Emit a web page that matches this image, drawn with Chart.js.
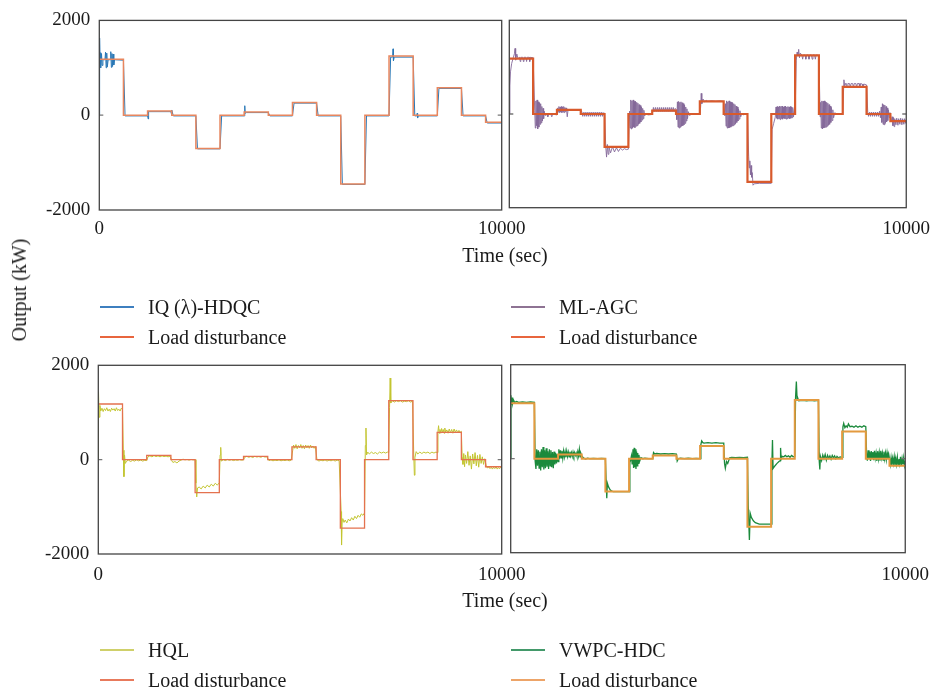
<!DOCTYPE html>
<html>
<head>
<meta charset="utf-8">
<script src="https://cdn.jsdelivr.net/npm/chart.js@4.4.1/dist/chart.umd.min.js"></script>
<style>
body { margin: 0; background: #fff; font-family: 'Liberation Serif', 'Times New Roman', serif; color: #1a1a1a; }
#wrap { position: relative; width: 940px; height: 691px; overflow: hidden; }
canvas { position: absolute; left: 0; top: 0; }
.lbl { position: absolute; font-size: 20px; white-space: nowrap; line-height: 1; }
.swatch { position: absolute; width: 34px; height: 0; border-top: 2px solid; }
</style>
</head>
<body>
<div id="wrap">
  <canvas id="c1" width="940" height="691"></canvas>
  <canvas id="c2" width="940" height="691"></canvas>
  <canvas id="c3" width="940" height="691"></canvas>
  <canvas id="c4" width="940" height="691"></canvas>
</div>
<script>
// load disturbance: level held from each time to the next (sec, kW)
const loadTimes = [0, 600, 1200, 1800, 2400, 3000, 3600, 4200, 4800, 5400, 6000, 6600, 7200, 7800, 8400, 9000, 9600, 10000];
const loadLevels = [1180, 0, 90, 0, -700, 0, 70, 0, 270, 0, -1450, 0, 1250, 0, 580, 0, -150, -150];

const yTickValues = [2000, 0, -2000];
const yTickLabels = ['2000', '0', '-2000'];
const xTickValues = [0, 10000];
const xTickLabels = ['0', '10000'];

// controller outputs [time, kW]
const iqOutput = [
  [0,0],[8,1630],[20,1100],[30,1320],[40,1000],[55,1300],[70,1050],[90,1170],[140,1170],[155,1330],[170,1000],[185,1310],[200,1020],[220,1170],
  [270,1170],[285,1340],[300,1010],[315,1300],[330,1030],[345,1290],[360,1060],[380,1170],[600,1160],
  [640,-15],[1200,-15],[1215,-80],[1225,90],[1240,75],[1780,75],[1790,30],[1800,110],[1840,-15],[2400,-15],[2440,-710],[3000,-710],[3040,-15],
  [3600,-15],[3615,200],[3625,40],[3650,55],[4200,55],[4240,-15],[4800,-15],[4840,255],[5400,255],[5440,-15],[6000,-15],[6040,-1460],[6600,-1460],
  [6640,-15],[7200,-15],[7240,1225],[7290,1225],[7300,1400],[7310,1150],[7330,1225],[7800,1225],[7840,-15],[7890,-15],[7900,40],[7910,-60],[7925,-15],
  [8400,-15],[8440,565],[9000,565],[9040,-15],[9600,-15],[9640,-165],[10000,-165]
];

const mlOutput = [
  [0,0],[15,600],[30,900],[60,1080],[100,1200],[130,1290],[145,1400],[160,1150],[190,1280],[220,1180],
  [260,1210],[275,1120],[290,1210],[340,1210],[355,1120],[370,1210],[420,1210],[435,1120],[450,1210],[500,1210],[515,1120],[530,1210],[600,1200],
  [640,80],[655,-300],[670,280],[685,-250],[700,300],[715,-320],[730,260],[745,-280],[760,240],[775,-220],[790,220],[805,-190],[820,160],[835,-150],[850,120],[865,-100],[880,60],[900,-30],
  [950,-10],[970,-60],[990,-10],[1050,-10],[1070,-60],[1090,-10],[1150,-10],[1200,-20],
  [1220,130],[1235,40],[1250,160],[1265,30],[1280,150],[1295,40],[1310,160],[1325,30],[1340,150],[1355,40],[1370,160],[1385,30],[1400,140],[1415,50],[1430,130],[1445,60],[1460,-60],[1480,90],[1800,90],
  [1830,40],[1850,-50],[1880,40],[1900,-50],[1930,40],[1950,-50],[1980,40],[2000,-50],[2030,40],[2050,-50],[2080,40],[2100,-50],[2130,40],[2150,-50],[2180,40],[2200,-50],[2230,40],[2250,-50],[2280,40],[2300,-50],[2330,40],[2350,-50],[2380,30],[2400,0],
  [2430,-700],[2450,-920],[2470,-650],[2490,-860],[2510,-700],[2550,-830],[2600,-700],[2650,-810],[2700,-720],[2750,-800],[2800,-730],[2850,-770],[2900,-740],[2950,-760],[3000,-750],
  [3030,60],[3045,-300],[3060,300],[3075,-320],[3090,280],[3105,-300],[3120,300],[3135,-280],[3150,270],[3165,-290],[3180,270],[3195,-260],[3210,250],[3225,-250],[3240,230],[3255,-220],[3270,200],[3285,-200],[3300,180],[3315,-170],[3330,150],[3345,-130],[3360,120],[3375,-100],[3390,80],[3410,-40],[3440,0],[3500,-20],[3600,-10],
  [3630,140],[3650,50],[3680,140],[3700,50],[3730,140],[3750,50],[3780,140],[3800,50],[3830,140],[3850,50],[3880,140],[3900,50],[3930,140],[3950,50],[3980,140],[4000,50],[4030,140],[4050,50],[4080,140],[4100,50],[4130,140],[4150,50],[4180,120],[4200,90],
  [4220,-120],[4235,260],[4250,-280],[4265,270],[4280,-300],[4295,250],[4310,-280],[4325,260],[4340,-260],[4355,240],[4370,-250],[4385,220],[4400,-230],[4415,190],[4430,-200],[4445,150],[4460,-150],[4475,110],[4490,-100],[4510,50],[4540,-30],[4600,0],[4700,-10],[4800,0],
  [4820,150],[4835,440],[4850,220],[4880,320],[4920,260],[4960,290],[5000,270],[5100,280],[5200,270],[5300,280],[5400,270],
  [5430,-40],[5445,220],[5460,-260],[5475,280],[5490,-300],[5505,260],[5520,-300],[5535,280],[5550,-290],[5565,260],[5580,-280],[5595,250],[5610,-260],[5625,240],[5640,-250],[5655,220],[5670,-230],[5685,200],[5700,-210],[5715,170],[5730,-180],[5745,150],[5760,-150],[5775,110],[5790,-110],[5810,70],[5830,-60],[5860,20],[5900,-20],[5950,0],[6000,-10],
  [6030,-900],[6045,-1150],[6060,-1000],[6075,-1300],[6090,-1100],[6105,-1350],[6120,-1250],[6140,-1520],[6170,-1490],[6300,-1480],[6600,-1480],
  [6620,-330],[6660,-200],[6700,-70],[6720,150],[6735,-90],[6750,160],[6765,-110],[6780,150],[6795,-100],[6810,170],[6825,-120],[6840,160],[6855,-100],[6870,170],[6885,-110],[6900,150],[6915,-90],[6930,160],[6945,-100],[6960,170],[6975,-110],[6990,150],[7005,-100],[7020,160],[7035,-90],[7050,150],[7065,-100],[7080,160],[7095,-90],[7110,150],[7125,-80],[7140,140],[7160,-60],[7180,100],[7200,0],
  [7230,1150],[7250,1320],[7270,1240],[7290,1380],[7310,1200],[7330,1300],[7370,1260],[7390,1170],[7410,1260],[7450,1260],[7470,1170],[7490,1260],[7530,1260],[7550,1170],[7570,1260],[7610,1260],[7630,1170],[7650,1260],[7690,1260],[7710,1170],[7730,1260],[7800,1250],
  [7830,-60],[7845,250],[7860,-300],[7875,280],[7890,-320],[7905,270],[7920,-300],[7935,280],[7950,-290],[7965,260],[7980,-280],[7995,250],[8010,-260],[8025,230],[8040,-240],[8055,200],[8070,-220],[8085,170],[8100,-180],[8115,140],[8130,-140],[8150,90],[8170,-80],[8200,30],[8250,-10],[8400,0],
  [8430,730],[8450,600],[8480,660],[8510,580],[8530,650],[8570,650],[8590,570],[8610,650],[8650,650],[8670,570],[8690,650],[8730,650],[8750,570],[8770,650],[8810,650],[8830,570],[8850,650],[8890,640],[8910,570],[8930,640],[9000,620],
  [9030,40],[9050,-50],[9080,40],[9100,-50],[9130,40],[9150,-50],[9180,40],[9200,-50],[9230,40],[9250,-50],[9280,40],[9300,-50],[9330,60],[9350,-80],[9370,150],[9385,-180],[9400,220],[9415,-220],[9430,200],[9445,-230],[9460,190],[9475,-200],[9490,160],[9505,-170],[9520,130],[9535,-140],[9550,90],[9570,-80],[9590,30],[9600,0],
  [9630,-150],[9650,-60],[9665,-250],[9680,-80],[9695,-270],[9710,-100],[9740,-230],[9760,-90],[9790,-240],[9810,-100],[9840,-220],[9860,-90],[9890,-230],[9910,-100],[9940,-220],[9960,-100],[9990,-200],[10000,-150]
];

const hqlOutput = [
  [0,0],[5,1440],[20,900],[40,1150],[60,1030],[90,1090],[120,1020],[150,1080],[180,1040],[210,1100],[240,1030],[270,1070],[300,1020],[330,1090],[360,1050],[390,1080],[420,1030],[450,1100],[480,1040],[510,1070],[540,1030],[570,1090],[600,1060],
  [620,200],[635,-360],[650,100],[670,-80],[700,-30],[750,-10],[800,-40],[850,-15],[900,-30],[950,-5],[1000,-25],[1050,-10],[1100,-30],[1150,-15],[1200,-20],
  [1230,60],[1280,80],[1330,60],[1380,85],[1430,65],[1480,80],[1530,60],[1580,80],[1630,65],[1680,75],[1730,60],[1780,75],
  [1820,-20],[1850,-60],[1900,-40],[1950,-70],[2000,-30],[2050,-10],[2100,10],[2150,-5],[2200,5],[2250,-10],[2300,5],[2350,-5],[2400,0],
  [2420,-500],[2440,-790],[2460,-600],[2500,-580],[2550,-620],[2600,-560],[2650,-600],[2700,-540],[2750,-580],[2800,-520],[2850,-560],[2900,-500],[2950,-540],[3000,-490],
  [3020,100],[3035,260],[3050,-30],[3100,0],[3150,-20],[3200,5],[3250,-15],[3300,0],[3350,-20],[3400,-5],[3450,-15],[3500,0],[3550,-10],[3600,-5],
  [3630,50],[3680,70],[3730,50],[3780,65],[3830,45],[3880,70],[3930,55],[3980,65],[4030,50],[4080,70],[4130,55],[4180,60],
  [4230,-20],[4280,-5],[4330,-25],[4380,-10],[4430,-20],[4480,-5],[4530,-25],[4580,-10],[4630,-20],[4680,-5],[4730,-25],[4780,-10],
  [4820,200],[4840,310],[4870,240],[4900,320],[4930,230],[4960,300],[4990,250],[5020,320],[5050,240],[5080,300],[5110,230],[5140,310],[5170,250],[5200,300],[5230,240],[5260,310],[5290,250],[5320,290],[5350,240],[5380,280],
  [5420,0],[5470,-30],[5520,-10],[5570,-25],[5620,-5],[5670,-30],[5720,-10],[5770,-25],[5820,-5],[5870,-30],[5920,-10],[5970,-20],
  [6020,-1100],[6030,-1810],[6045,-1300],[6060,-1250],[6090,-1330],[6120,-1280],[6160,-1340],[6200,-1260],[6240,-1300],[6280,-1230],[6320,-1280],[6360,-1200],[6400,-1250],[6440,-1180],[6480,-1220],[6520,-1150],[6560,-1180],[6600,-1130],
  [6620,300],[6635,670],[6650,100],[6680,160],[6720,120],[6770,160],[6820,130],[6870,150],[6920,120],[6970,160],[7020,140],[7070,160],[7120,140],[7170,160],[7200,150],
  [7220,1100],[7235,1730],[7250,1200],[7290,1250],[7340,1220],[7390,1250],[7440,1230],[7490,1250],[7540,1220],[7590,1240],[7640,1230],[7690,1250],[7740,1220],[7790,1240],
  [7820,100],[7835,-330],[7850,50],[7880,170],[7920,120],[7970,160],[8020,130],[8070,160],[8120,140],[8170,160],[8220,130],[8270,160],[8320,140],[8370,160],[8400,150],
  [8420,600],[8435,720],[8450,560],[8470,640],[8490,560],[8510,660],[8530,580],[8550,640],[8570,560],[8590,670],[8610,580],[8640,630],[8670,560],[8700,650],[8730,570],[8760,640],[8790,560],[8820,650],[8850,580],[8880,630],[8910,570],[8940,620],[8970,580],[9000,600],
  [9020,50],[9040,-100],[9060,130],[9080,-150],[9100,100],[9130,-80],[9160,170],[9190,-120],[9220,80],[9250,-200],[9280,120],[9310,-90],[9340,150],[9370,-130],[9400,90],[9430,-160],[9460,110],[9490,-80],[9520,60],[9550,-100],[9580,20],
  [9620,-140],[9650,-180],[9680,-150],[9710,-190],[9740,-160],[9770,-200],[9800,-160],[9830,-190],[9860,-150],[9890,-200],[9920,-170],[9950,-190],[9980,-160],[10000,-180]
];

const vwpcOutput = [
  [0,0],[5,1350],[20,1150],[35,1300],[50,1180],[70,1250],[100,1200],[150,1220],[200,1200],[300,1210],[400,1200],[500,1210],[600,1200],
  [620,-50],[640,-220],[660,200],[680,-150],[700,180],[720,-200],[740,150],[760,-250],[780,200],[800,-180],[820,250],[840,-230],[860,180],[880,-200],[900,220],[920,-170],[940,160],[960,-220],[980,200],[1000,-150],[1020,180],[1040,-180],[1060,140],[1080,-200],[1100,150],[1120,-120],[1140,120],[1160,-100],[1180,100],[1200,-60],
  [1220,200],[1240,0],[1260,180],[1280,20],[1300,170],[1320,10],[1340,160],[1360,40],[1380,150],[1400,30],[1420,160],[1440,50],[1460,140],[1480,40],[1500,150],[1520,60],[1540,130],[1560,50],[1580,140],[1600,60],[1620,130],[1640,70],[1660,120],[1680,50],[1700,150],[1720,60],[1740,200],[1760,40],[1780,110],[1800,60],
  [1850,10],[1900,-5],[1950,10],[2000,0],[2100,5],[2200,0],[2300,5],[2400,0],
  [2420,-500],[2435,-840],[2450,-520],[2480,-600],[2520,-660],[2560,-690],[2600,-700],[3000,-700],
  [3020,-80],[3040,-30],[3060,60],[3080,-120],[3100,200],[3115,-200],[3130,230],[3145,-180],[3160,200],[3175,-220],[3190,150],[3205,-150],[3220,120],[3235,-100],[3250,80],[3270,-50],[3300,20],[3350,0],[3400,10],[3500,0],[3600,0],
  [3620,130],[3650,100],[3700,110],[3800,100],[3900,110],[4000,100],[4100,110],[4200,100],
  [4220,-50],[4250,0],[4300,10],[4400,0],[4500,10],[4600,0],[4700,5],[4800,0],
  [4820,300],[4840,380],[4870,340],[4900,330],[5000,340],[5100,330],[5200,340],[5300,330],[5400,330],
  [5420,-100],[5440,-200],[5470,-60],[5500,-100],[5550,20],[5600,30],[5700,20],[5800,30],[5900,20],[6000,30],
  [6020,-1000],[6050,-1730],[6070,-1160],[6100,-1250],[6150,-1320],[6200,-1360],[6300,-1390],[6400,-1390],[6600,-1390],
  [6620,-100],[6635,400],[6650,-210],[6700,-150],[6750,-100],[6800,-60],[6830,-40],[6840,230],[6855,-10],[6880,50],[6920,40],[6960,70],[7000,40],[7040,60],[7080,30],[7120,70],[7160,40],[7200,50],
  [7220,1300],[7240,1640],[7260,1250],[7280,1280],[7300,1230],[7400,1240],[7500,1230],[7600,1240],[7700,1230],[7800,1240],
  [7820,-50],[7835,-230],[7850,50],[7880,-40],[7910,80],[7940,0],[7970,90],[8000,-30],[8030,70],[8060,10],[8090,60],[8120,-10],[8150,70],[8180,20],[8210,60],[8240,0],[8270,50],[8300,20],[8350,40],[8400,30],
  [8420,680],[8440,750],[8470,660],[8500,700],[8530,670],[8560,740],[8600,680],[8650,690],[8700,670],[8750,700],[8800,670],[8850,690],[8900,670],[8950,700],[9000,680],
  [9020,100],[9040,-40],[9060,180],[9080,0],[9100,150],[9120,-50],[9140,160],[9160,20],[9180,140],[9200,-30],[9220,170],[9240,10],[9260,120],[9280,-50],[9300,160],[9320,0],[9340,130],[9360,-40],[9380,170],[9400,20],[9420,120],[9440,-30],[9460,150],[9480,0],[9500,120],[9520,-20],[9540,130],[9560,10],[9580,100],[9600,0],
  [9620,-120],[9640,20],[9660,-150],[9680,10],[9700,-100],[9720,40],[9740,-160],[9760,0],[9780,-120],[9800,30],[9820,-140],[9840,-10],[9860,-110],[9880,40],[9900,-150],[9920,0],[9940,-120],[9960,20],[9980,-140],[10000,-40]
];

const fontFamily = "'Liberation Serif', 'Times New Roman', serif";
const loadPoints = loadTimes.map((t, i) => ({ x: t, y: loadLevels[i] }));

function toPoints(pairs) {
  return pairs.map(p => ({ x: p[0], y: p[1] }));
}

// box round the plot area and the little zero ticks
const framePlugin = {
  id: 'frame',
  afterDatasetsDraw(chart) {
    const a = chart.chartArea;
    const ctx = chart.ctx;
    const y0 = chart.scales.y.getPixelForValue(0);
    ctx.save();
    ctx.strokeStyle = '#777';
    ctx.lineWidth = 1.3;
    ctx.beginPath();
    ctx.moveTo(a.left, y0); ctx.lineTo(a.left + 4, y0);
    ctx.moveTo(a.right - 4, y0); ctx.lineTo(a.right, y0);
    ctx.stroke();
    ctx.strokeStyle = '#444';
    ctx.strokeRect(a.left, a.top, a.right - a.left, a.bottom - a.top);
    ctx.restore();
  }
};

function makePanel(id, area, p) {
  const yW = p.showY ? 70 : 0;
  const xH = 30;
  return new Chart(document.getElementById(id), {
    type: 'line',
    data: {
      datasets: [
        { label: 'Load disturbance', data: loadPoints, stepped: true, borderColor: p.loadColor, borderWidth: p.loadWidth, pointRadius: 0, order: 0 },
        { label: p.name, data: toPoints(p.output), borderColor: p.color, borderWidth: p.width, pointRadius: 0, order: 1 }
      ]
    },
    options: {
      responsive: false,
      animation: false,
      events: [],
      layout: { padding: { left: area[0] - yW, top: area[1], right: 940 - area[2], bottom: 691 - area[3] - xH } },
      plugins: { legend: { display: false }, tooltip: { enabled: false } },
      scales: {
        x: {
          type: 'linear', min: 0, max: 10000,
          grid: { display: false, drawTicks: false },
          border: { display: false },
          afterBuildTicks: s => { s.ticks = p.xTicks.map(v => ({ value: v })); },
          afterFit: s => { s.height = xH; },
          ticks: {
            padding: p.xPad, autoSkip: false, maxRotation: 0, color: '#1a1a1a',
            font: { family: fontFamily, size: 19 },
            callback: v => xTickLabels[xTickValues.indexOf(v)]
          }
        },
        y: {
          min: -2000, max: 2000,
          grid: { display: false, drawTicks: false },
          border: { display: false },
          afterBuildTicks: s => { s.ticks = yTickValues.map(v => ({ value: v })); },
          afterFit: s => { s.width = yW; },
          ticks: {
            display: p.showY, padding: 9, autoSkip: false, color: '#1a1a1a',
            font: { family: fontFamily, size: 19 },
            callback: v => yTickLabels[yTickValues.indexOf(v)]
          }
        }
      }
    },
    plugins: [framePlugin]
  });
}

makePanel('c1', [99.3, 20.3, 501.7, 210], { name: 'IQ (λ)-HDQC', output: iqOutput, color: '#2a78b6', width: 1, loadColor: '#e8865e', loadWidth: 1.5, showY: true, xTicks: [0, 10000], xPad: 8 });
makePanel('c2', [509.3, 20.3, 910, 207.7], { name: 'ML-AGC', output: mlOutput, color: '#85699a', width: 0.9, loadColor: '#d85a2c', loadWidth: 2.2, showY: false, xTicks: [10000], xPad: 10 });
makePanel('c3', [98.3, 365.3, 501.7, 554], { name: 'HQL', output: hqlOutput, color: '#c3c531', width: 1, loadColor: '#e4724f', loadWidth: 1.3, showY: true, xTicks: [0, 10000], xPad: 10 });
makePanel('c4', [510.7, 364.7, 911.7, 552.7], { name: 'VWPC-HDC', output: vwpcOutput, color: '#1b8a3c', width: 1.3, loadColor: '#e39a3f', loadWidth: 2, showY: false, xTicks: [10000], xPad: 11 });

// text outside the plots
const wrap = document.getElementById('wrap');
function addText(txt, x, y, extra) {
  const d = document.createElement('div');
  d.className = 'lbl';
  d.textContent = txt;
  d.style.left = x + 'px';
  d.style.top = y + 'px';
  d.style.transform = extra || 'translate(-50%, -50%)';
  wrap.appendChild(d);
}
function addLegend(x, y, items) {
  items.forEach((it, i) => {
    const s = document.createElement('div');
    s.className = 'swatch';
    s.style.left = x + 'px';
    s.style.top = (y + i * 30 - 1) + 'px';
    s.style.borderColor = it[1];
    wrap.appendChild(s);
    addText(it[0], x + 48, y + i * 30, 'translate(0, -50%)');
  });
}

addText('Time (sec)', 505, 255);
addText('Time (sec)', 505, 600);
addText('Output (kW)', 19, 290, 'translate(-50%, -50%) rotate(-90deg)');

addLegend(100, 307, [['IQ (λ)-HDQC', '#3d7fbf'], ['Load disturbance', '#e8653e']]);
addLegend(511, 307, [['ML-AGC', '#8e7393'], ['Load disturbance', '#e8653e']]);
addLegend(100, 650, [['HQL', '#cfd06a'], ['Load disturbance', '#e87a5c']]);
addLegend(511, 650, [['VWPC-HDC', '#43996a'], ['Load disturbance', '#eda468']]);
</script>
</body>
</html>
